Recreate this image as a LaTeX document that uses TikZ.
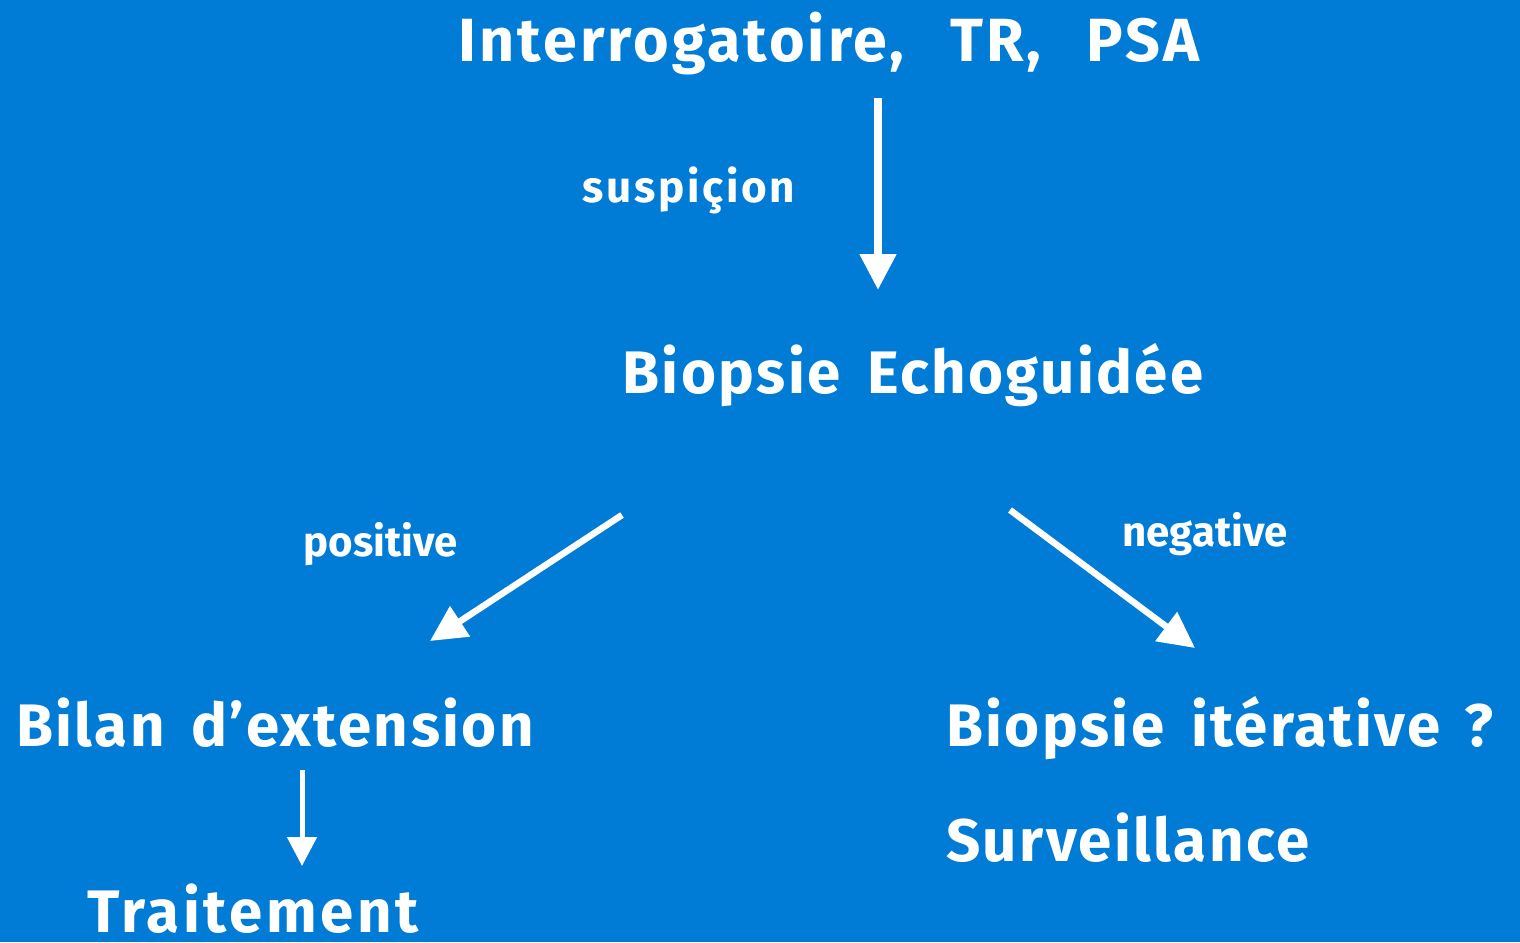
\documentclass[tikz,border=0pt]{standalone}
\usepackage{fontspec}
\setmainfont{Fira Sans}
\newfontfamily\widefont[LetterSpace=4,WordSpace=1.6]{Fira Sans}
\newfontfamily\topfont[LetterSpace=5,WordSpace=2.6]{Fira Sans}
\newfontfamily\traitfont[LetterSpace=6]{Fira Sans}
\newfontfamily\smallwide[LetterSpace=6]{Fira Sans}
\usetikzlibrary{arrows.meta}
\definecolor{bgblue}{RGB}{0,123,214}
\begin{document}
\begin{tikzpicture}[x=1pt,y=-1pt,
  lbl/.style={text=white,font=\widefont\bfseries\fontsize{60}{70}\selectfont,inner sep=0pt},
  small/.style={text=white,font=\bfseries\fontsize{42}{50}\selectfont,inner sep=0pt},
  arr/.style={draw=white,line width=8pt,-{Triangle[width=35pt,length=36pt]}},
  thinarr/.style={draw=white,line width=5pt,-{Triangle[width=29pt,length=29pt]}}]
\fill[bgblue] (0,0) rectangle (1520,942);
\useasboundingbox (0,0) rectangle (1520,942);
\node[lbl,font=\topfont\bfseries\fontsize{61}{70}\selectfont,anchor=base] (top) at (829,62) {Interrogatoire, TR, PSA};
\node[small,font=\smallwide\bfseries\fontsize{44}{50}\selectfont,anchor=base] (susp) at (689,202) {suspiçion};
\node[lbl,anchor=base] (bio) at (913,393) {Biopsie Echoguidée};
\node[small,anchor=base] (pos) at (381,556) {positive};
\node[small,anchor=base] (neg) at (1205,546) {negative};
\node[lbl,anchor=base] (bilan) at (275,746) {Bilan d’extension};
\node[lbl,font=\traitfont\bfseries\fontsize{60}{70}\selectfont,text depth=0pt,anchor=base] (trait) at (253,932) {Traitement};
\node[lbl,anchor=base west] (iter) at (946,746) {Biopsie itérative\hspace{24pt}?};
\node[lbl,anchor=base west] (surv) at (946,861) {Surveillance};
\coordinate (a1s) at (878,98);
\coordinate (a1e) at (878,290);
\coordinate (a2s) at (622,515);
\coordinate (a2e) at (430,641);
\coordinate (a3s) at (1010,510);
\coordinate (a3e) at (1195,648);
\coordinate (a4s) at (302,770);
\coordinate (a4e) at (302,866);
\draw[arr] (a1s) -- (a1e);
\draw[arr,line width=6.5pt] (a2s) -- (a2e);
\draw[arr,line width=6.5pt] (a3s) -- (a3e);
\draw[thinarr] (a4s) -- (a4e);
\end{tikzpicture}
\end{document}
